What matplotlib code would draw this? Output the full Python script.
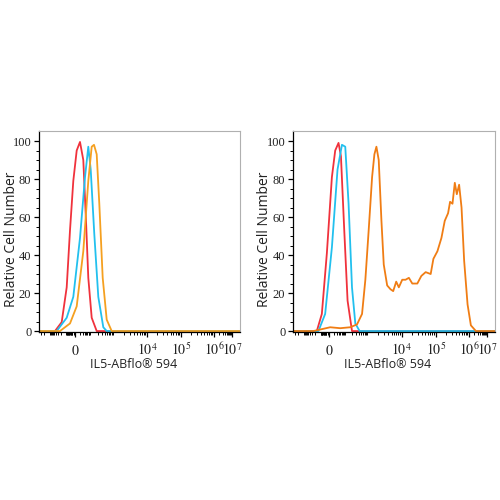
import numpy as np
import matplotlib
matplotlib.use("Agg")
import matplotlib.pyplot as plt

plt.rcParams['mathtext.fontset'] = 'stix'

# x values are display channels on the biexponential axis (0..201)
# left panel
red_l_x = [0, 16, 22.7, 27.7, 31, 34.3, 37.7, 41, 44.3, 47, 49.3, 52.7, 57.7, 201]
red_l_y = [0, 0, 4.7, 23, 53, 79, 95, 99.5, 90, 58, 28, 7, 0, 0]
blue_l_x = [0, 17.7, 27.7, 34.3, 41, 46, 49.3, 51.7, 55.3, 59.3, 64.3, 67.7, 201]
blue_l_y = [0, 0, 7, 18, 49, 81, 97, 85, 51, 18, 2, 0, 0]
orange_l_x = [0, 21, 31, 37.7, 44.3, 49.3, 52.7, 55, 57.7, 60.3, 63.7, 67.7, 72.7, 201]
orange_l_y = [0, 0, 4, 13, 42, 79, 97, 98, 93, 67, 28, 6, 0, 0]

# right panel
red_r_x = [0, 23.7, 28.7, 33.7, 38.7, 42, 45.3, 47.7, 51, 54.3, 58.7, 201]
red_r_y = [0, 0, 9, 41, 81, 95, 99, 92, 53, 16, 0, 0]
blue_r_x = [0, 25.3, 32, 38.7, 44.3, 48.7, 52, 55.3, 58.7, 62, 66.3, 201]
blue_r_y = [0, 0, 9, 44, 85, 98, 97, 67, 23, 4, 0, 0]
orange_r_x = [0.3, 20.3, 28.7, 37, 47, 57, 63.7, 68.7, 72, 75.3, 78.7, 81, 83, 85.3,
              88, 90.3, 93.7, 97, 99.7, 102.7, 105.3, 108.7, 112, 115.3, 118.7,
              123.7, 127.7, 132, 137, 139.7, 143.7, 147.7, 151, 154.3, 156.3,
              158.7, 161, 163, 165.3, 167.7, 170.3, 173.7, 177, 182, 201]
orange_r_y = [0, 0, 1, 2, 1.5, 2, 3.5, 9, 27, 53, 81, 93, 97, 90,
              58, 35, 24, 22, 21, 26, 23, 27, 27, 28, 25,
              25, 29, 31, 30, 38, 42, 49, 58, 62, 68,
              67, 78, 72, 77, 65, 37, 14, 3, 0, 0]

tick_pos = [36, 108, 142, 175, 193]
tick_lab = [r'$0$', r'$10^4$', r'$10^5$', r'$10^6$', r'$10^7$']

RED = '#f0323c'
CYAN = '#22c0ee'


def minor_positions():
    # log-like minor ticks between decade positions, mirrored on the negative side
    dec = [36, 52, 75, 108, 142, 175, 193]
    out = []
    for a, b in zip(dec[:-1], dec[1:]):
        for m in range(2, 10):
            out.append(a + np.log10(m) * (b - a))
    neg = [36, 27, 10, -7]
    for a, b in zip(neg[:-1], neg[1:]):
        for m in range(2, 10):
            out.append(a + np.log10(m) * (b - a))
    out += list(np.arange(29, 36, 1.4))
    return [p for p in out if 0 < p < 201]


def style(ax):
    ax.set_xlim(0, 201)
    ax.set_ylim(-0.5, 105)
    for s in ['top', 'right']:
        ax.spines[s].set_color('#b0b0b0')
        ax.spines[s].set_linewidth(0.8)
    for s in ['left', 'bottom']:
        ax.spines[s].set_color('black')
        ax.spines[s].set_linewidth(0.9)
    ax.set_yticks([0, 20, 40, 60, 80, 100])
    ax.set_yticks(np.arange(0, 105, 5), minor=True)
    ax.set_xticks(tick_pos)
    ax.set_xticklabels(tick_lab)
    ax.set_xticks(minor_positions(), minor=True)
    ax.tick_params(axis='both', which='major', length=3.5, width=0.9, direction='out',
                   labelsize=9, labelcolor='#222222')
    ax.tick_params(axis='both', which='minor', length=2, width=0.7, direction='out')
    ax.tick_params(axis='x', which='major', pad=13, labelsize=10)
    ax.tick_params(axis='y', which='major', pad=2)
    for lab in ax.get_xticklabels():
        lab.set_va('baseline')
    for lab in ax.get_yticklabels():
        lab.set_fontfamily('Liberation Serif')
    ax.set_ylabel('Relative Cell Number', fontsize=10, fontfamily='Open Sans',
                  color='#222222', va='center')
    ax.yaxis.set_label_coords(-0.139, 0.46)
    ax.set_xlabel('IL5-ABflo® 594', fontsize=9, fontfamily='Open Sans',
                  color='#222222', va='center')
    ax.xaxis.set_label_coords(0.47, -0.16)


fig = plt.figure(figsize=(5, 5), dpi=100)
ax1 = fig.add_axes([0.078, 0.336, 0.402, 0.401])
ax2 = fig.add_axes([0.586, 0.336, 0.404, 0.401])

ax1.plot(red_l_x, red_l_y, color=RED, lw=1.3)
ax1.plot(blue_l_x, blue_l_y, color=CYAN, lw=1.3)
ax1.plot(orange_l_x, orange_l_y, color='#f5a020', lw=1.3)
style(ax1)

ax2.plot(red_r_x, red_r_y, color=RED, lw=1.3)
ax2.plot(blue_r_x, blue_r_y, color=CYAN, lw=1.3)
ax2.plot(orange_r_x, orange_r_y, color='#f07d14', lw=1.3)
style(ax2)

fig.savefig('out.png', dpi=100)
